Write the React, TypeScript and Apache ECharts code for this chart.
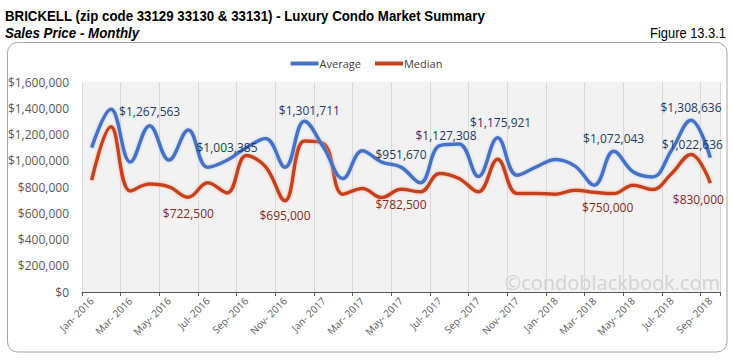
import React, { useEffect, useRef } from "react";
import * as echarts from "echarts";

const months = [
  "Jan- 2016", "Feb- 2016", "Mar- 2016", "Apr- 2016", "May- 2016", "Jun- 2016",
  "Jul- 2016", "Aug- 2016", "Sep- 2016", "Oct- 2016", "Nov- 2016", "Dec- 2016",
  "Jan- 2017", "Feb- 2017", "Mar- 2017", "Apr- 2017", "May- 2017", "Jun- 2017",
  "Jul- 2017", "Aug- 2017", "Sep- 2017", "Oct- 2017", "Nov- 2017", "Dec- 2017",
  "Jan- 2018", "Feb- 2018", "Mar- 2018", "Apr- 2018", "May- 2018", "Jun- 2018",
  "Jul- 2018", "Aug- 2018", "Sep- 2018",
];

const average = [
  1100000, 1392000, 990000, 1267563, 1005000, 1234000, 950000, 1003385, 1100000,
  1170000, 950000, 1301711, 1100000, 865000, 1076000, 990000, 951670, 832000,
  1115000, 1127308, 880000, 1175921, 890000, 954000, 1010000, 959000, 814000,
  1072043, 916000, 877000, 1081000, 1308636, 1022636,
];

const median = [
  852000, 1259000, 770000, 822000, 801000, 722500, 832000, 755000, 1040000,
  954000, 695000, 1150000, 1130000, 745000, 789000, 720000, 782500, 763000,
  903000, 865000, 763000, 1012000, 751000, 751000, 745000, 776000, 760000,
  750000, 814000, 781000, 903000, 1048000, 830000,
];

const averageLabelIdx = [3, 7, 11, 16, 19, 21, 27, 31, 32];
const medianLabelIdx = [5, 10, 16, 27, 32];

const yTicks = { min: 0, max: 1600000, interval: 200000 };

const fmt = (v: number) => "$" + v.toLocaleString("en-US");

// label placement tweaks (style only)
const avgLabelStyle: Record<number, { distance: number; dx: number }> = {
  3: { distance: 8, dx: 0 },
  7: { distance: 7, dx: 0 },
  11: { distance: 5, dx: 5 },
  16: { distance: 7, dx: 0 },
  19: { distance: 3, dx: -13 },
  21: { distance: 9, dx: 3 },
  27: { distance: 7, dx: 0 },
  31: { distance: 7, dx: 0 },
  32: { distance: 7, dx: -18 },
};
const medLabelStyle: Record<number, { distance: number; dx: number }> = {
  5: { distance: 10, dx: 0 },
  10: { distance: 9, dx: 0 },
  16: { distance: 9, dx: 0 },
  27: { distance: 8, dx: -6 },
  32: { distance: 10, dx: -12 },
};

const FONT = "'Open Sans', 'Noto Sans', sans-serif";
const NARROW = "'Liberation Sans Narrow', 'Arial Narrow', 'Liberation Sans', sans-serif";

export default function App() {
  const ref = useRef<HTMLDivElement>(null);

  useEffect(() => {
    if (!ref.current) return;
    const chart = echarts.init(ref.current, null, { renderer: "svg" });

    const avgData = average.map((v, i) => {
      if (!averageLabelIdx.includes(i)) return { value: v };
      const s = avgLabelStyle[i] || { distance: 6, dx: 0 };
      return {
        value: v,
        label: {
          show: true,
          position: "top",
          distance: s.distance,
          offset: [s.dx, 0],
          formatter: (p: any) => fmt(p.value),
          color: "#243B61",
          fontSize: 12,
          fontFamily: FONT,
        },
      };
    });

    const medData = median.map((v, i) => {
      if (!medianLabelIdx.includes(i)) return { value: v };
      const s = medLabelStyle[i] || { distance: 8, dx: 0 };
      return {
        value: v,
        label: {
          show: true,
          position: "bottom",
          distance: s.distance,
          offset: [s.dx, 0],
          formatter: (p: any) => fmt(p.value),
          color: "#842B1A",
          fontSize: 12,
          fontFamily: FONT,
        },
      };
    });

    chart.setOption({
      animation: false,
      backgroundColor: "#ffffff",
      textStyle: { fontFamily: FONT },
      graphic: [
        {
          type: "rect",
          shape: { x: 7.5, y: 42.5, width: 719.5, height: 309.5, r: 10 },
          style: { fill: "none", stroke: "#a6a6a6", lineWidth: 1 },
          z: -10,
          silent: true,
        },
        {
          type: "text",
          x: 5,
          y: 16,
          scaleX: 0.885,
          style: {
            text: "BRICKELL (zip code 33129 33130 & 33131) - Luxury Condo Market Summary",
            font: "bold 15px " + NARROW,
            fill: "#000000",
            verticalAlign: "middle",
          },
        },
        {
          type: "text",
          x: 5,
          y: 33,
          scaleX: 0.89,
          style: {
            text: "Sales Price - Monthly",
            font: "italic bold 15px " + NARROW,
            fill: "#000000",
            verticalAlign: "middle",
          },
        },
        {
          type: "text",
          x: 726,
          y: 33,
          scaleX: 0.86,
          style: {
            text: "Figure 13.3.1",
            font: "15px " + NARROW,
            fill: "#000000",
            align: "right",
            verticalAlign: "middle",
          },
        },
        {
          type: "text",
          x: 720,
          y: 282,
          z: 1,
          style: {
            text: "©condoblackbook.com",
            font: "20px " + FONT,
            fill: "#d2d2d2",
            align: "right",
            verticalAlign: "middle",
          },
        },
      ],
      legend: {
        top: 53,
        left: "center",
        itemWidth: 28,
        itemHeight: 4,
        itemGap: 14,
        icon: "rect",
        textStyle: { fontSize: 11, color: "#404040", fontFamily: FONT, padding: [0, 0, 0, -4] },
        data: ["Average", "Median"],
      },
      grid: {
        left: 82,
        right: 13,
        top: 82,
        bottom: 68,
        show: true,
        backgroundColor: "#f2f2f2",
        borderWidth: 0,
      },
      xAxis: {
        type: "category",
        data: months,
        boundaryGap: true,
        axisLine: { show: true, lineStyle: { color: "#595959", width: 1 } },
        axisTick: { show: true, interval: 1, length: 4, lineStyle: { color: "#595959" } },
        axisLabel: {
          interval: 1,
          rotate: 45,
          fontSize: 10,
          color: "#595959",
          fontFamily: FONT,
          margin: 7,
        },
        splitLine: { show: true, interval: 1, lineStyle: { color: "#d9d9d9", width: 1 } },
      },
      yAxis: {
        type: "value",
        min: yTicks.min,
        max: yTicks.max,
        interval: yTicks.interval,
        axisLine: { show: false },
        axisTick: { show: false },
        splitLine: { show: false },
        axisLabel: {
          formatter: (v: number) => fmt(v),
          fontSize: 12,
          color: "#595959",
          fontFamily: FONT,
          margin: 13,
        },
      },
      series: [
        {
          name: "Average",
          type: "line",
          data: avgData,
          smooth: 0.4,
          symbol: "circle",
          symbolSize: 0.01,
          showSymbol: true,
          z: 3,
          itemStyle: { color: "#4472C4" },
          lineStyle: {
            color: "#4472C4",
            width: 3.5,
            shadowColor: "rgba(170,195,240,0.8)",
            shadowBlur: 3,
          },
        },
        {
          name: "Median",
          type: "line",
          data: medData,
          smooth: 0.4,
          symbol: "circle",
          symbolSize: 0.01,
          showSymbol: true,
          z: 2,
          itemStyle: { color: "#C7411F" },
          lineStyle: {
            color: "#C7411F",
            width: 3.5,
            shadowColor: "rgba(245,170,140,0.9)",
            shadowBlur: 3,
          },
        },
      ],
    });

    return () => chart.dispose();
  }, []);

  return (
    <div
      ref={ref}
      style={{ position: "fixed", left: 0, top: 0, width: 733, height: 360 }}
    />
  );
}
